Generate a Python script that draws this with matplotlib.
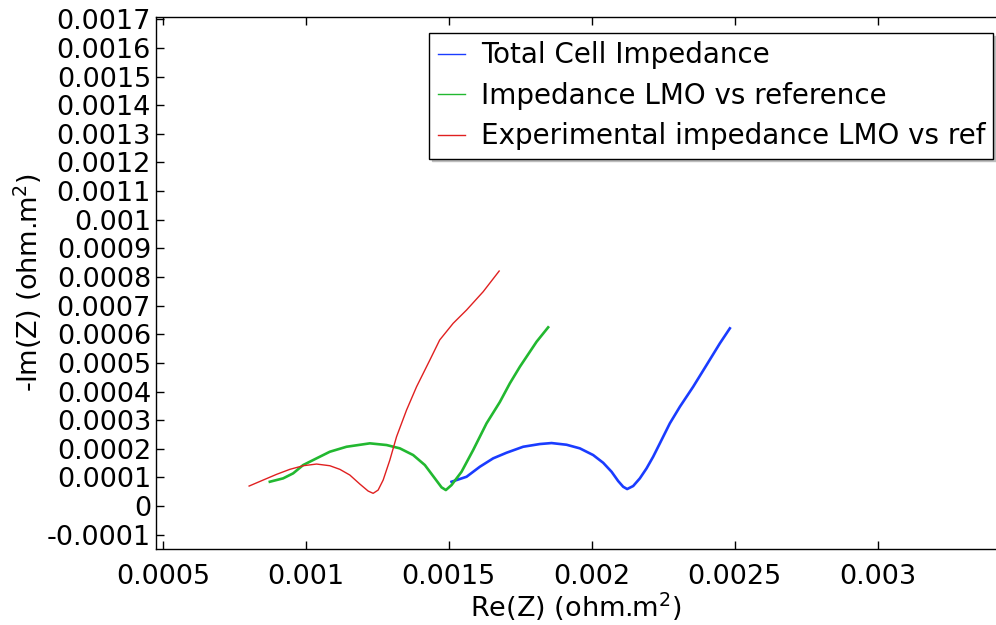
import numpy as np
import matplotlib.pyplot as plt
from matplotlib.ticker import FuncFormatter, MultipleLocator

# Total cell impedance (blue)
re_total = [0.0015094, 0.0015619, 0.0016084, 0.0016549, 0.0017017, 0.0017598, 0.0018182,
            0.0018591, 0.0019115, 0.0019580, 0.0020046, 0.0020395, 0.0020689, 0.0020920,
            0.0021095, 0.0021234, 0.0021444, 0.0021678, 0.0021913, 0.0022143, 0.0022378,
            0.0022727, 0.0023077, 0.0023542, 0.0024010, 0.0024476, 0.0024825]
im_total = [0.0000849, 0.0001023, 0.0001373, 0.0001666, 0.0001862, 0.0002071, 0.0002166,
            0.0002200, 0.0002141, 0.0002015, 0.0001781, 0.0001512, 0.0001198, 0.0000873,
            0.0000674, 0.0000594, 0.0000699, 0.0000967, 0.0001317, 0.0001722, 0.0002190,
            0.0002889, 0.0003468, 0.0004167, 0.0004925, 0.0005683, 0.0006207]

# LMO vs reference (green)
re_lmo = [0.0008741, 0.0009206, 0.0009556, 0.0009906, 0.0010374, 0.0010839, 0.0011423,
          0.0012238, 0.0012822, 0.0013287, 0.0013752, 0.0014161, 0.0014510, 0.0014745,
          0.0014895, 0.0015094, 0.0015444, 0.0015850, 0.0016318, 0.0016783, 0.0017133,
          0.0017483, 0.0018067, 0.0018472]
im_lmo = [0.0000849, 0.0000967, 0.0001142, 0.0001432, 0.0001666, 0.0001897, 0.0002071,
          0.0002190, 0.0002131, 0.0002015, 0.0001781, 0.0001432, 0.0000967, 0.0000653,
          0.0000559, 0.0000733, 0.0001198, 0.0001956, 0.0002889, 0.0003633, 0.0004286,
          0.0004865, 0.0005739, 0.0006242]

# experimental LMO vs ref (red)
re_exp = [0.0008017, 0.0008507, 0.0008976, 0.0009441, 0.0009906, 0.0010374, 0.0010839,
          0.0011189, 0.0011538, 0.0011888, 0.0012178, 0.0012353, 0.0012528, 0.0012703,
          0.0012937, 0.0013171, 0.0013521, 0.0013871, 0.0014336, 0.0014680, 0.0015150,
          0.0015619, 0.0016199, 0.0016759]
im_exp = [0.0000699, 0.0000908, 0.0001107, 0.0001282, 0.0001408, 0.0001467, 0.0001408,
          0.0001282, 0.0001083, 0.0000768, 0.0000524, 0.0000444, 0.0000559, 0.0000908,
          0.0001607, 0.0002421, 0.0003353, 0.0004167, 0.0005100, 0.0005800, 0.0006381,
          0.0006846, 0.0007485, 0.0008208]

plt.rcParams['font.family'] = 'DejaVu Sans'

fig = plt.figure(figsize=(9.96, 6.25), dpi=100)
ax = fig.add_axes([0.1566, 0.1216, 0.8434, 0.8512])

ax.plot(re_total, im_total, color='#1a3cff', lw=1.9, label='Total Cell Impedance')
ax.plot(re_lmo, im_lmo, color='#22b830', lw=1.9, label='Impedance LMO vs reference')
ax.plot(re_exp, im_exp, color='#e02020', lw=1.0, label='Experimental impedance LMO vs ref')

ax.set_xlim(0.000476, 0.003413)
ax.set_ylim(-0.00015, 0.001708)
ax.xaxis.set_major_locator(MultipleLocator(0.0005))
ax.yaxis.set_major_locator(MultipleLocator(0.0001))
fmt = FuncFormatter(lambda v, p: '%g' % round(v, 6) if abs(v) > 1e-12 else '0')
ax.xaxis.set_major_formatter(fmt)
ax.yaxis.set_major_formatter(fmt)

ax.spines['right'].set_visible(False)
for s in ['left', 'bottom', 'top']:
    ax.spines[s].set_linewidth(1.0)
ax.tick_params(direction='in', length=6, width=1, top=True, right=False, labelsize=19.5)
ax.tick_params(axis='x', pad=11)

ax.set_xlabel(r'Re(Z) (ohm.m$^2$)', fontsize=19.5, labelpad=0)
ax.set_ylabel(r'-Im(Z) (ohm.m$^2$)', fontsize=19.5, labelpad=2)

leg = ax.legend(loc='upper right', bbox_to_anchor=(0.997, 0.970), borderaxespad=0,
                fancybox=False, shadow={'color': '#bdbdbd', 'alpha': 1},
                framealpha=1, edgecolor='black',
                handlelength=1.0, handletextpad=0.55, labelspacing=0.45,
                borderpad=0.3, fontsize=20)
leg.get_frame().set_linewidth(1.0)
for h in leg.get_lines():
    h.set_linewidth(1.0)

fig.savefig('out.png', dpi=100)
